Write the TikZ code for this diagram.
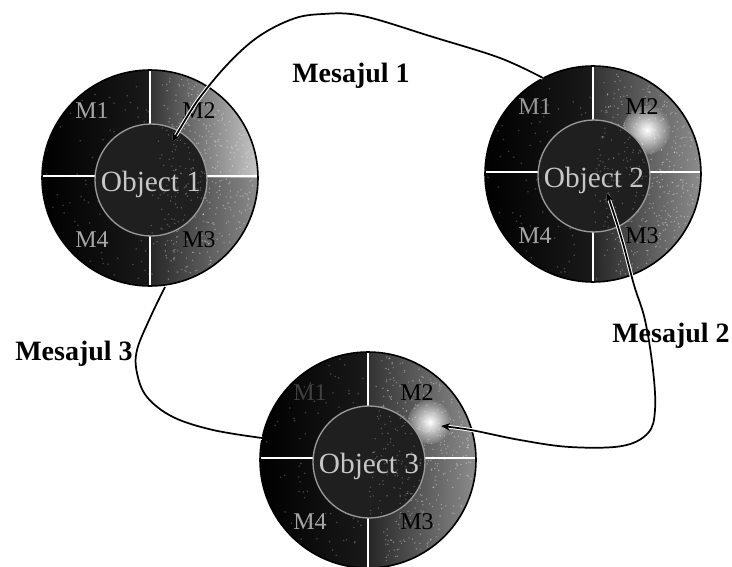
\documentclass[tikz,border=0pt]{standalone}
\usepackage{fontspec}
\setmainfont{Liberation Serif}
\usetikzlibrary{arrows.meta}
\tikzset{
  msg/.style={font=\bfseries\fontsize{21}{23}\selectfont, text=black, inner sep=0pt},
  conn/.style={line width=1.3pt, black, preaction={draw=white, line width=2.8pt}},
  mlab/.style={font=\fontsize{18}{20}\selectfont, inner sep=0pt},
  olab/.style={font=\fontsize{22}{24}\selectfont, text=black!22, inner sep=0pt},
  crossline/.style={white, line width=1.5pt},
  outerring/.style={circle, draw=black, line width=1.2pt, minimum size=162pt, inner sep=0pt},
  innerdisk/.style={circle, draw=black!40, line width=1pt, fill=black!88, minimum size=84pt, inner sep=0pt},
  speck/.style={white, opacity=0.35},
  blob/.style={inner color=white, outer color=black!55},
}
% #1 id, #2 centre, #3 light colour of M2 quadrant, #4 colour of M1 text, #5 number, #6 extra drawing
\newcommand\DrawObj[6]{%
  \begin{scope}[shift={#2}]
    \shade[left color=black, right color=black!55, middle color=black!90] (0,0) circle (108);
    \begin{scope}
      \clip (0,0) -- (108,0) arc[start angle=0,end angle=-90,radius=108] -- cycle;
      \shade[left color=black!80, right color=#3] (0,-108) rectangle (108,0);
      #6
    \end{scope}
    \begin{scope}
      \clip (0,0) -- (108,0) arc[start angle=0,end angle=90,radius=108] -- cycle;
      \shade[left color=black!85, right color=black!45] (0,0) rectangle (108,108);
    \end{scope}
    \foreach \k in {1,...,160}{%
      \pgfmathsetmacro\ang{360*rnd}\pgfmathsetmacro\rad{105*sqrt(rnd)}%
      \fill[speck, opacity=0.22] (\ang:\rad) circle (0.9);}
    \foreach \k in {1,...,320}{%
      \pgfmathsetmacro\ang{-80+160*rnd}\pgfmathsetmacro\rad{105*sqrt(rnd)}%
      \fill[speck] (\ang:\rad) circle (0.8);}
    \begin{scope}
      \clip (0,0) circle (108);
      \draw[crossline] (0,-110) -- (0,110);
      \draw[crossline] (-110,-2) -- (110,-2);
    \end{scope}
    \node[outerring] (#1) at (0,0) {};
    \node[innerdisk] (#1in) at (1,2) {};
    \foreach \k in {1,...,90}{%
      \pgfmathsetmacro\ang{-80+170*rnd}\pgfmathsetmacro\rad{54*sqrt(rnd)}%
      \fill[speck, opacity=0.25] ([shift={(1,2)}]\ang:\rad) circle (0.8);}
    \node[olab] (#1lab) at (1,6) {Object #5};
    \node[mlab, text=#4] (#1m1) at (-58,-67) {M1};
    \node[mlab, text=black] (#1m2) at (49,-67) {M2};
    \node[mlab, text=black] (#1m3) at (49,62) {M3};
    \node[mlab, text=black!35] (#1m4) at (-58,62) {M4};
  \end{scope}}
\begin{document}
\begin{tikzpicture}[x=0.75pt,y=-0.75pt]
\pgfmathsetseed{7}
\useasboundingbox (0,0) rectangle (732,567);
\DrawObj{o1}{(150,178)}{black!22}{black!35}{1}{}
\DrawObj{o2}{(593,174)}{black!45}{black!40}{2}{\shade[blob] (54,-44) circle (24);}
\DrawObj{o3}{(368,460)}{black!45}{black!75}{3}{\shade[blob] (62,-38) circle (22);}

% free ends of the connectors
\coordinate (e1a) at (172,142);
\coordinate (e1b) at (543,78);
\coordinate (e2a) at (607,193);
\coordinate (e2b) at (441,426);
\coordinate (e3a) at (165,287);
\coordinate (e3b) at (262,438);

\draw[conn, {Stealth[length=7pt,width=6pt]}-] plot[smooth, tension=0.6] coordinates
  {(e1a) (208,87) (250,43) (290,20) (323,14) (363,16) (433,37) (500,58) (e1b)};
\draw[conn, {Stealth[length=7pt,width=6pt]}-{Stealth[length=7pt,width=6pt]}] plot[smooth, tension=0.6] coordinates
  {(e2a) (622,240) (634,285) (645,320) (653,370) (655,410) (648,433) (622,446) (570,447) (520,440) (471,430) (e2b)};
\draw[conn] plot[smooth, tension=0.6] coordinates
  {(e3a) (150,318) (137,350) (137,373) (147,397) (173,417) (213,430) (e3b)};

\node[msg, anchor=base west] (m1) at (292,83) {Mesajul 1};
\node[msg, anchor=base west] (m2) at (612,342) {Mesajul 2};
\node[msg, anchor=base west] (m3) at (15,360) {Mesajul 3};
\end{tikzpicture}
\end{document}
